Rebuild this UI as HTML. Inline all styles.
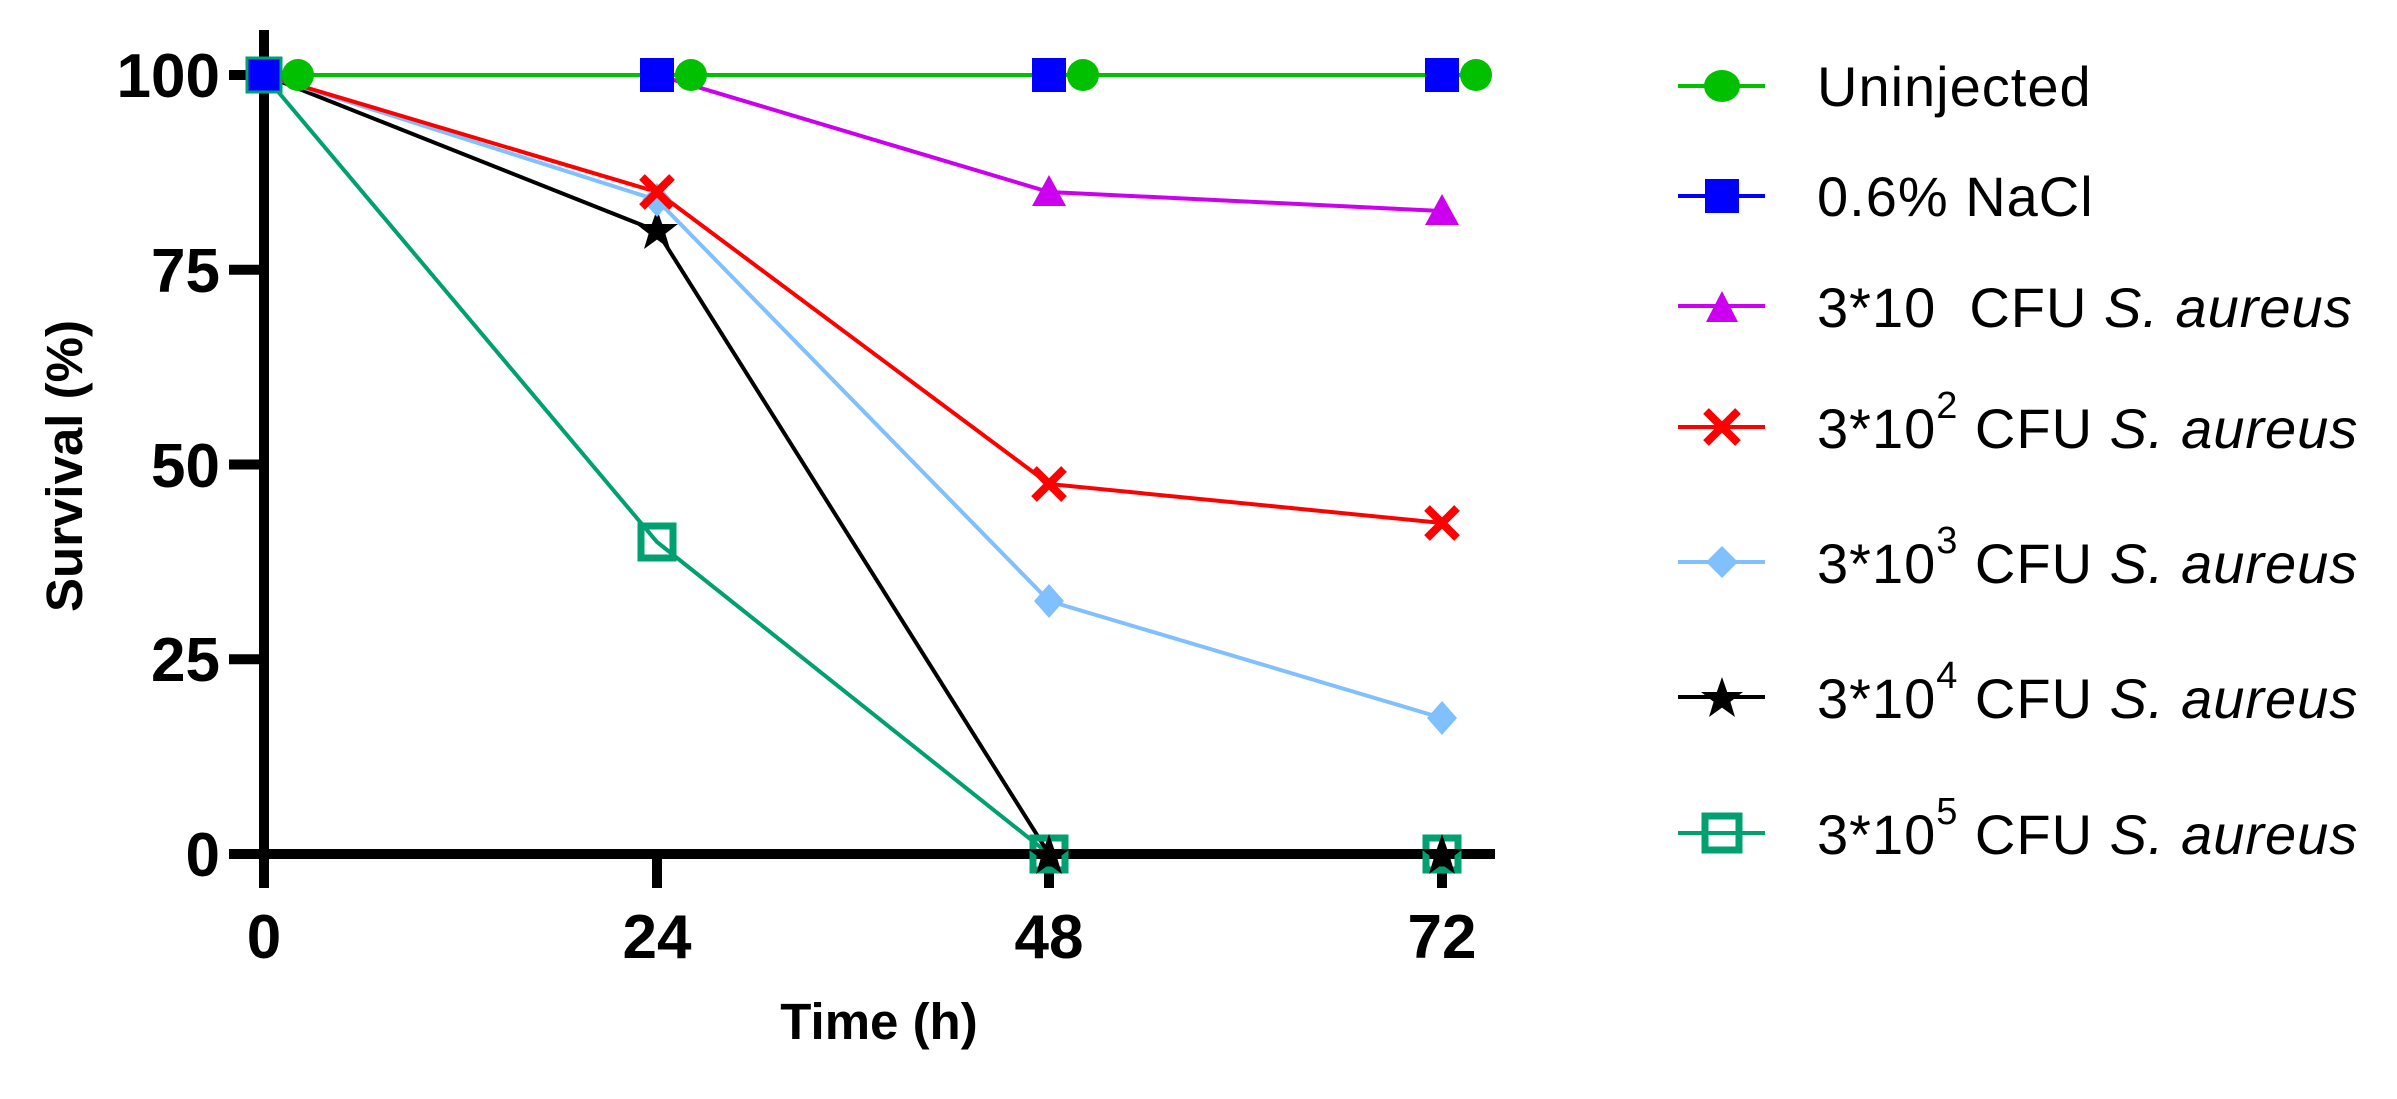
<!DOCTYPE html>
<html><head><meta charset="utf-8"><style>
html,body{margin:0;padding:0;background:#fff;}
svg{display:block;}
.tk{font-family:"Liberation Sans Narrow","Liberation Sans",sans-serif;font-weight:bold;font-size:62px;fill:#000;}
.ax{font-family:"Liberation Sans",sans-serif;font-weight:bold;font-size:51px;fill:#000;}
.lg{font-family:"Liberation Sans",sans-serif;font-size:56px;letter-spacing:1px;fill:#000;}
</style></head><body>
<svg width="2397" height="1099" viewBox="0 0 2397 1099" xmlns="http://www.w3.org/2000/svg">
<defs>
<polygon id="star" points="0,-22 5.2,-7 21,-7 8.4,2.7 13,18 0,8.6 -13,18 -8.4,2.7 -21,-7 -5.2,-7"/>
</defs>
<g stroke="#000" stroke-width="10" fill="none">
<line x1="264" y1="30" x2="264" y2="888"/>
<line x1="229" y1="854" x2="1495" y2="854"/>
<line x1="229" y1="75" x2="264" y2="75"/>
<line x1="229" y1="269.75" x2="264" y2="269.75"/>
<line x1="229" y1="464.5" x2="264" y2="464.5"/>
<line x1="229" y1="659.25" x2="264" y2="659.25"/>
<line x1="657" y1="854" x2="657" y2="888"/>
<line x1="1049" y1="854" x2="1049" y2="888"/>
<line x1="1442" y1="854" x2="1442" y2="888"/>
</g>
<g class="tk" text-anchor="end">
<text x="220" y="97">100</text>
<text x="220" y="292">75</text>
<text x="220" y="487">50</text>
<text x="220" y="681">25</text>
<text x="220" y="876">0</text>
</g>
<g class="tk" text-anchor="middle">
<text x="264" y="958">0</text>
<text x="657" y="958">24</text>
<text x="1049" y="958">48</text>
<text x="1442" y="958">72</text>
</g>
<text class="ax" x="879" y="1039" text-anchor="middle">Time (h)</text>
<text class="ax" transform="translate(82,466) rotate(-90)" text-anchor="middle">Survival (%)</text>

<g fill="none" stroke-width="4">
<polyline stroke="#00a070" points="264,75 657,542 1049,854 1442,854"/>
<polyline stroke="#000" points="264,75 657,231 1049,854 1442,854"/>
<polyline stroke="#80c0ff" points="264,75 657,200 1049,601 1442,718"/>
<polyline stroke="#ff0000" points="264,75 657,192 1049,484 1442,523"/>
<polyline stroke="#cc00ee" points="264,75 657,75 1049,192 1442,211"/>
<polyline stroke="#0000ff" points="264,75 1442,75"/>
<polyline stroke="#00c000" points="298,75 1476,75"/>
</g>
<g fill="none" stroke="#00a070" stroke-width="7">
<rect x="641" y="526" width="32" height="32"/>
<rect x="1033" y="838" width="32" height="32"/>
<rect x="1426" y="838" width="32" height="32"/>
</g>
<g fill="#000">
<use href="#star" x="657" y="231"/>
<use href="#star" x="1049" y="856"/>
<use href="#star" x="1442" y="856"/>
</g>
<g fill="#80c0ff">
<polygon points="657,183 672,200 657,217 642,200"/>
<polygon points="1049,584 1064,601 1049,618 1034,601"/>
<polygon points="1442,701 1457,718 1442,735 1427,718"/>
</g>
<g stroke="#ff0000" stroke-width="8">
<path d="M642,177 L672,207 M672,177 L642,207"/>
<path d="M1034,469 L1064,499 M1064,469 L1034,499"/>
<path d="M1427,508 L1457,538 M1457,508 L1427,538"/>
</g>
<g fill="#cc00ee">
<polygon points="1049,175 1066,206 1032,206"/>
<polygon points="1442,194 1459,225 1425,225"/>
</g>
<g fill="#0000ff">
<rect x="247" y="58" width="34" height="34" stroke="#00a070" stroke-width="3"/>
<rect x="640" y="58" width="34" height="34"/>
<rect x="1032" y="58" width="34" height="34"/>
<rect x="1425" y="58" width="34" height="34"/>
</g>
<g fill="#00c000">
<circle cx="298" cy="75" r="16"/>
<circle cx="691" cy="75" r="16"/>
<circle cx="1083" cy="75" r="16"/>
<circle cx="1476" cy="75" r="16"/>
</g>

<g stroke-width="4">
<line x1="1678" y1="86" x2="1765" y2="86" stroke="#00c000"/>
<line x1="1678" y1="196" x2="1765" y2="196" stroke="#0000ff"/>
<line x1="1678" y1="306" x2="1765" y2="306" stroke="#cc00ee"/>
<line x1="1678" y1="427" x2="1765" y2="427" stroke="#ff0000"/>
<line x1="1678" y1="562" x2="1765" y2="562" stroke="#80c0ff"/>
<line x1="1678" y1="697" x2="1765" y2="697" stroke="#000"/>
<line x1="1678" y1="833" x2="1765" y2="833" stroke="#00a070"/>
</g>
<ellipse cx="1722" cy="86" rx="18" ry="16" fill="#00c000"/>
<rect x="1705" y="179" width="34" height="34" fill="#0000ff"/>
<polygon points="1722,291 1738,322 1706,322" fill="#cc00ee"/>
<path d="M1706,411 L1738,443 M1738,411 L1706,443" stroke="#ff0000" stroke-width="8"/>
<polygon points="1722,546 1738,562 1722,578 1706,562" fill="#80c0ff"/>
<use href="#star" x="1722" y="699" fill="#000"/>
<rect x="1705" y="816" width="34" height="34" fill="none" stroke="#00a070" stroke-width="7"/>
<g class="lg">
<text x="1817" y="106">Uninjected</text>
<text x="1817" y="216">0.6% NaCl</text>
<text x="1817" y="327">3*10&#160; CFU <tspan font-style="italic">S. aureus</tspan></text>
<text x="1817" y="448">3*10<tspan font-size="38" dy="-30">2</tspan><tspan dy="30"> CFU </tspan><tspan font-style="italic">S. aureus</tspan></text>
<text x="1817" y="583">3*10<tspan font-size="38" dy="-30">3</tspan><tspan dy="30"> CFU </tspan><tspan font-style="italic">S. aureus</tspan></text>
<text x="1817" y="718">3*10<tspan font-size="38" dy="-30">4</tspan><tspan dy="30"> CFU </tspan><tspan font-style="italic">S. aureus</tspan></text>
<text x="1817" y="854">3*10<tspan font-size="38" dy="-30">5</tspan><tspan dy="30"> CFU </tspan><tspan font-style="italic">S. aureus</tspan></text>
</g>
</svg>
</body></html>
